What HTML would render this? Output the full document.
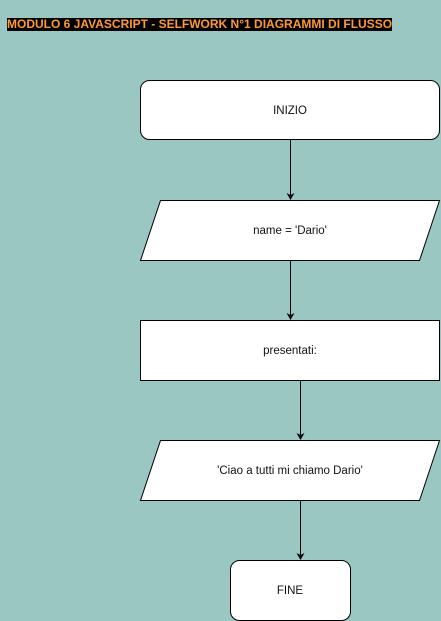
<!DOCTYPE html>
<html><head><meta charset="utf-8"><style>
html,body{margin:0;padding:0;background:#9ac7c1;width:441px;height:621px;overflow:hidden}
.t{position:absolute;left:7px;top:18px;height:13px;width:385px;background:#000;color:#ff9933;font:bold 12px "Liberation Sans",sans-serif;line-height:13px;white-space:nowrap;letter-spacing:0px}
svg{position:absolute;left:0;top:0}
text{font-family:"Liberation Sans",sans-serif;font-size:11.5px;fill:#111}
</style></head><body>
<div class="t">MODULO 6 JAVASCRIPT - SELFWORK N°1 DIAGRAMMI DI FLUSSO</div>
<svg width="441" height="621" viewBox="0 0 441 621">
<g stroke="#000" stroke-width="1" fill="#fff">
<rect x="140.5" y="80.5" width="299" height="59" rx="9"/>
<polygon points="160.5,200.5 439.5,200.5 419.5,260.5 140.5,260.5"/>
<rect x="140.5" y="320.5" width="299" height="60"/>
<polygon points="160.5,440.5 439.5,440.5 419.5,500.5 140.5,500.5"/>
<rect x="230.5" y="560.5" width="120" height="60" rx="9"/>
<line x1="290.5" y1="140" x2="290.5" y2="195"/>
<line x1="290.5" y1="261" x2="290.5" y2="315"/>
<line x1="300.5" y1="381" x2="300.5" y2="435"/>
<line x1="300.5" y1="501" x2="300.5" y2="555"/>
</g>
<g fill="#000">
<path d="M286.5,193 L290.5,200 L294.5,193 L290.5,195 Z"/>
<path d="M286.5,313 L290.5,320 L294.5,313 L290.5,315 Z"/>
<path d="M296.5,433 L300.5,440 L304.5,433 L300.5,435 Z"/>
<path d="M296.5,553 L300.5,560 L304.5,553 L300.5,555 Z"/>
</g>
<g text-anchor="middle">
<text x="290" y="114">INIZIO</text>
<text x="290" y="234">name = 'Dario'</text>
<text x="290" y="354">presentati:</text>
<text x="290" y="474">'Ciao a tutti mi chiamo Dario'</text>
<text x="290" y="594">FINE</text>
</g>
</svg>
</body></html>
